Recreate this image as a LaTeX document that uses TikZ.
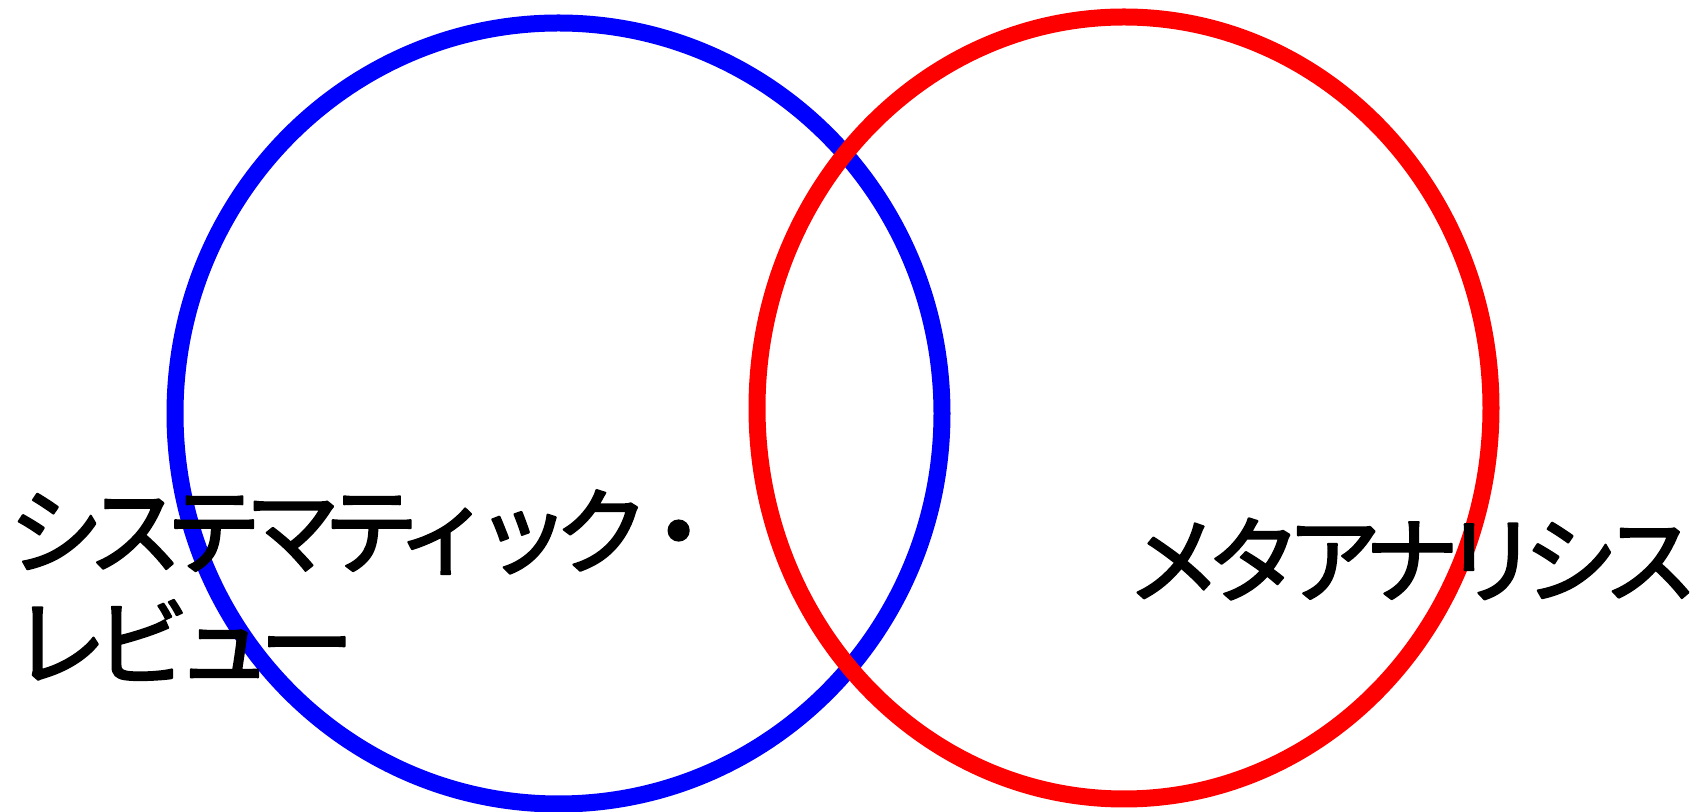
\documentclass[tikz,border=0pt]{standalone}
\usepackage{fontspec}
\newfontfamily\jpfont{Noto Sans CJK JP}[LetterSpace=-13, FakeBold=2.2]
\tikzset{
  ring/.style={line width=0.17cm},
  termtext/.style={font=\jpfont\fontsize{27pt}{32pt}\selectfont, inner sep=0pt, anchor=west}
}
\begin{document}
\begin{tikzpicture}[line cap=round, line join=round]
  % Page frame
  \useasboundingbox (0,0) rectangle (17.05,-8.12);

  % Circle centres
  \coordinate (Cb) at (5.585,-4.135);
  \coordinate (Cr) at (11.24,-4.08);

  % Circles
  \draw[ring, blue] (Cb) ellipse [x radius=3.835, y radius=3.905];
  \draw[ring, red] (Cr) ellipse [x radius=3.67, y radius=3.91];

  % Labels
  \node[termtext] (sr1) at (0.08,-5.32) {\addfontfeature{LetterSpace=-17}システマティック・};
  \node[termtext] (sr2) at (0.11,-6.40) {レビュー};
  \node[termtext] (ma) at (11.26,-5.59) {\addfontfeature{LetterSpace=-16}メタアナリシス};
\end{tikzpicture}
\end{document}
